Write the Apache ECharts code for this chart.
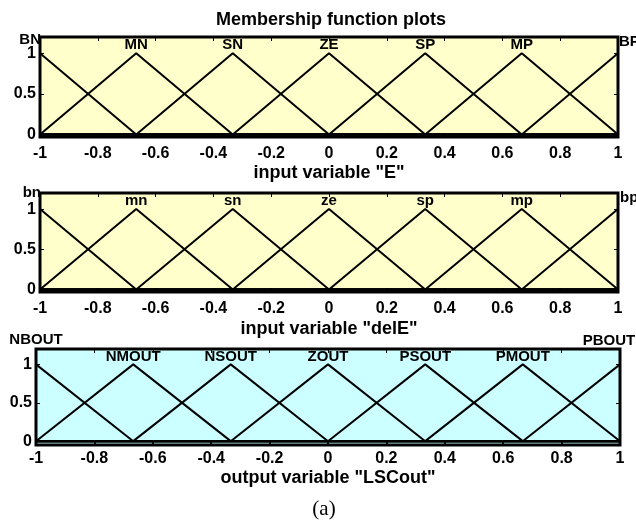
<!DOCTYPE html>
<html>
<head>
<meta charset="utf-8">
<script src="https://cdn.jsdelivr.net/npm/echarts@6/dist/echarts.min.js"></script>
<style>
  html, body { margin: 0; padding: 0; background: #fff; }
  #chart { width: 636px; height: 524px; }
</style>
</head>
<body>
<div id="chart"></div>
<script>
// Triangular membership functions: each entry is [left foot, peak, right foot]
const eNames = ['BN', 'MN', 'SN', 'ZE', 'SP', 'MP', 'BP'];
const eParams = [
  [-1.333, -1, -0.667], [-1, -0.667, -0.333], [-0.667, -0.333, 0], [-0.333, 0, 0.333],
  [0, 0.333, 0.667], [0.333, 0.667, 1], [0.667, 1, 1.333]
];
const delENames = ['bn', 'mn', 'sn', 'ze', 'sp', 'mp', 'bp'];
const delEParams = [
  [-1.333, -1, -0.667], [-1, -0.667, -0.333], [-0.667, -0.333, 0], [-0.333, 0, 0.333],
  [0, 0.333, 0.667], [0.333, 0.667, 1], [0.667, 1, 1.333]
];
const outNames = ['NBOUT', 'NMOUT', 'NSOUT', 'ZOUT', 'PSOUT', 'PMOUT', 'PBOUT'];
const outParams = [
  [-1.333, -1, -0.667], [-1, -0.667, -0.333], [-0.667, -0.333, 0], [-0.333, 0, 0.333],
  [0, 0.333, 0.667], [0.333, 0.667, 1], [0.667, 1, 1.333]
];
const yTickValues = [0, 0.5, 1];
const axisTitles = ['input variable "E"', 'input variable "delE"', 'output variable "LSCout"'];

const FONT = 'Liberation Sans, Arial, sans-serif';
const NAME_Y = 1.1;

// panel layout and styling
const panels = [
  { names: eNames, params: eParams, bg: '#ffffcc', left: 40, top: 37, width: 578, height: 100, ymin: -0.03, nameGap: 27, labelMargin: 9,
    endLabels: [{ align: 'right', offset: [1, -5] }, { align: 'left', offset: [1, -3] }] },
  { names: delENames, params: delEParams, bg: '#ffffcc', left: 40, top: 193, width: 578, height: 99, ymin: -0.03, nameGap: 28, labelMargin: 9,
    endLabels: [{ align: 'right', offset: [1, -8] }, { align: 'left', offset: [2, -3] }] },
  { names: outNames, params: outParams, bg: '#ccffff', left: 36, top: 349, width: 584, height: 96, ymin: -0.05, nameGap: 24, labelMargin: 6,
    endLabels: [{ align: 'center', offset: [0, -17] }, { align: 'center', offset: [-11, -16] }] }
];

function mfPoints(p) {
  const pts = [];
  if (p[0] > -1) pts.push([-1, 0]);
  pts.push([p[0], 0], [p[1], 1], [p[2], 0]);
  if (p[2] < 1) pts.push([1, 0]);
  return pts;
}

const grid = [], xAxis = [], yAxis = [], series = [];
panels.forEach((pn, i) => {
  grid.push({
    left: pn.left, top: pn.top, width: pn.width, height: pn.height,
    show: true, backgroundColor: pn.bg, borderColor: '#000', borderWidth: 3
  });
  // bottom axis with labels
  xAxis.push({
    type: 'value', gridIndex: i, min: -1, max: 1, interval: 0.2, position: 'bottom',
    axisLine: { show: false, onZero: false },
    axisTick: { show: true, inside: true, length: 4, lineStyle: { color: '#000', width: 2 } },
    splitLine: { show: false },
    axisLabel: { color: '#000', fontFamily: FONT, fontWeight: 'bold', fontSize: 16, margin: pn.labelMargin },
    name: axisTitles[i], nameLocation: 'middle', nameGap: pn.nameGap,
    nameTextStyle: { color: '#000', fontFamily: FONT, fontWeight: 'bold', fontSize: 18 }
  });
  // top axis, ticks only
  xAxis.push({
    type: 'value', gridIndex: i, min: -1, max: 1, interval: 0.2, position: 'top',
    axisLine: { show: false, onZero: false },
    axisTick: { show: true, inside: true, length: 4, lineStyle: { color: '#000', width: 1 } },
    splitLine: { show: false }, axisLabel: { show: false }
  });
  yAxis.push({
    type: 'value', gridIndex: i, min: pn.ymin, max: 1.2, position: 'left',
    axisLine: { show: false, onZero: false },
    axisTick: { show: true, inside: true, length: 4, customValues: yTickValues, lineStyle: { color: '#000', width: 1 } },
    splitLine: { show: false },
    axisLabel: { color: '#000', fontFamily: FONT, fontWeight: 'bold', fontSize: 16, margin: 4, customValues: yTickValues }
  });
  yAxis.push({
    type: 'value', gridIndex: i, min: pn.ymin, max: 1.2, position: 'right',
    axisLine: { show: false, onZero: false },
    axisTick: { show: true, inside: true, length: 4, customValues: yTickValues, lineStyle: { color: '#000', width: 1 } },
    splitLine: { show: false }, axisLabel: { show: false, customValues: yTickValues }
  });

  pn.params.forEach((p) => {
    series.push({
      type: 'line', xAxisIndex: 2 * i, yAxisIndex: 2 * i,
      data: mfPoints(p), symbol: 'none', clip: true, silent: true,
      lineStyle: { color: '#000', width: 2 }
    });
  });

  const n = pn.names.length;
  const labelData = pn.names.map((name, k) => {
    const item = { value: [pn.params[k][1], NAME_Y], name: name };
    if (k === 0 || k === n - 1) {
      const e = pn.endLabels[k === 0 ? 0 : 1];
      item.label = { align: e.align, offset: e.offset };
    }
    return item;
  });
  series.push({
    type: 'scatter', xAxisIndex: 2 * i, yAxisIndex: 2 * i,
    data: labelData, symbolSize: 0, clip: false, silent: true,
    itemStyle: { color: '#000', opacity: 1 },
    label: {
      show: true, position: 'inside', formatter: '{b}',
      color: '#000', textBorderWidth: 0, fontFamily: FONT, fontWeight: 'bold', fontSize: 15
    }
  });
});

const chart = echarts.init(document.getElementById('chart'), null, { renderer: 'canvas' });
chart.setOption({
  animation: false,
  backgroundColor: '#fff',
  title: [
    { text: 'Membership function plots', left: 326, top: 6, textAlign: 'center',
      textStyle: { color: '#000', fontFamily: FONT, fontWeight: 'bold', fontSize: 18 } },
    { text: '(a)', left: 319, top: 494, textAlign: 'center',
      textStyle: { color: '#000', fontFamily: 'Liberation Serif, Times New Roman, serif', fontWeight: 'normal', fontSize: 21 } }
  ],
  grid: grid,
  xAxis: xAxis,
  yAxis: yAxis,
  series: series
});
</script>
</body>
</html>
